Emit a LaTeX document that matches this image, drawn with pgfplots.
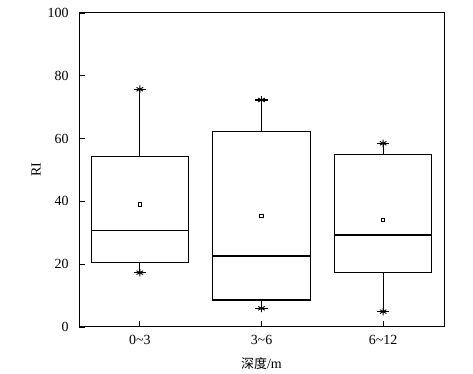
\documentclass[border=0pt]{standalone}
\usepackage{pgfplots}
\pgfplotsset{compat=1.18}
\usepgfplotslibrary{statistics}
\usepackage{fontspec}
\setmainfont{Liberation Serif}
\newfontfamily\cjk{Noto Sans CJK SC}
\begin{document}
\begin{tikzpicture}
\begin{axis}[name=ax, scale only axis, width=365bp, height=314bp,
  xmin=-0.5, xmax=2.5, ymin=0, ymax=100,
  xtick={0,1,2}, xticklabels={0\textasciitilde 3, 3\textasciitilde 6, 6\textasciitilde 12},
  ytick={0,20,40,60,80,100},
  tick align=inside, xtick pos=bottom, ytick pos=left, major tick length=6bp,
  tick style={black, line width=0.7pt},
  ticklabel style={font=\fontsize{14}{16}\selectfont},
  yticklabel style={xshift=-7bp},
  xticklabel style={yshift=-5bp},
  /pgf/number format/assume math mode=true,
  xlabel={{\cjk\fontsize{13}{15}\selectfont 深度}/m}, ylabel={RI},
  xlabel style={yshift=-6bp},
  label style={font=\fontsize{14}{16}\selectfont},
  axis line style={line width=1pt},
  boxplot/draw direction=y,
  boxplot/box extend=0.8, boxplot/whisker extend=0.1]
\addplot[black, line width=1.1pt, boxplot prepared={draw position=0, lower whisker=17.3, lower quartile=20.6, median=30.7, upper quartile=54.2, upper whisker=75.7}] coordinates {};
\addplot[black, line width=1.1pt, boxplot prepared={draw position=1, lower whisker=5.95, lower quartile=8.6, median=22.6, upper quartile=62.2, upper whisker=72.3}] coordinates {};
\addplot[black, line width=1.1pt, boxplot prepared={draw position=2, lower whisker=4.9, lower quartile=17.3, median=29.3, upper quartile=54.9, upper whisker=58.5}] coordinates {};
\addplot[only marks, mark=asterisk, mark size=3.8bp, black, line width=0.9pt] coordinates {(0,17.3)(0,75.7)(1,5.95)(1,72.3)(2,4.9)(2,58.5)};
\addplot[only marks, mark=square, mark size=1.7bp, black, line width=0.8pt] coordinates {(0,39.1)(1,35.3)(2,34.2)};
\end{axis}
\path (ax.south west) ++(-79bp,-45bp) rectangle ++(473bp,372bp);
\end{tikzpicture}
\end{document}
